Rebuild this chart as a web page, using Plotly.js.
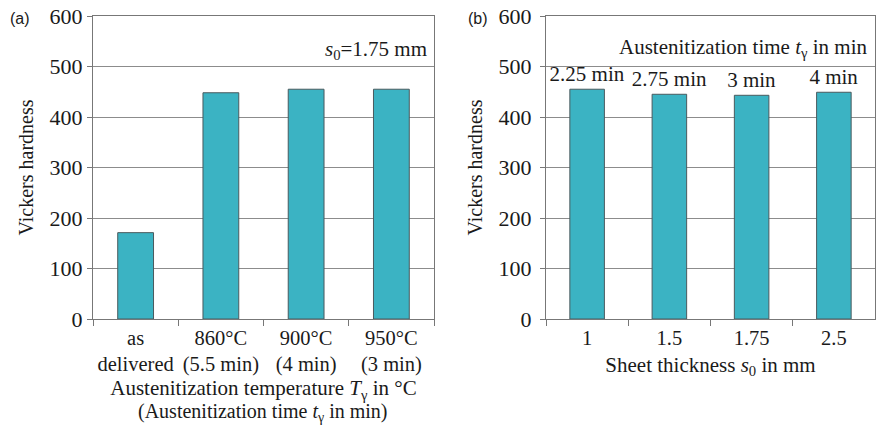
<!DOCTYPE html>
<html><head><meta charset="utf-8">
<script src="https://cdn.plot.ly/plotly-3.0.1.min.js"></script>
<style>html,body{margin:0;padding:0;background:#fff}#chart{width:876px;height:425px}</style>
</head><body><div id="chart"></div>
<script>
// Panel (a)
const catsA = ["as<br>delivered", "860°C<br>(5.5 min)", "900°C<br>(4 min)", "950°C<br>(3 min)"];
const hardnessA = [171, 448, 455, 455];
// Panel (b)
const catsB = ["1", "1.5", "1.75", "2.5"];
const hardnessB = [455, 445, 443, 449];
const timeLabelsB = ["2.25 min", "2.75 min", "3 min", "4 min"];
const yTicks = [0, 100, 200, 300, 400, 500, 600];

const serif = "Liberation Serif";
const ink = "#1a1a1a";
const barColor = "#3bb3c3";
const barLine = {color: "#4a5a5e", width: 1};

const traces = [
  {type: "bar", x: catsA, y: hardnessA, xaxis: "x", yaxis: "y", width: 0.42,
   marker: {color: barColor, line: barLine}, hoverinfo: "skip"},
  {type: "bar", x: catsB, y: hardnessB, xaxis: "x2", yaxis: "y2", width: 0.42,
   marker: {color: barColor, line: barLine}, text: timeLabelsB, textposition: "outside",
   constraintext: "none",
   textfont: {family: serif, size: 21, color: ink}, cliponaxis: false, hoverinfo: "skip"}
];

const xBase = {type: "category", showline: true, linecolor: "#777", linewidth: 1.2, mirror: true,
  ticks: "outside", ticklen: 6, tickcolor: "#777", tickson: "boundaries", showgrid: false, tickangle: 0,
  tickfont: {family: serif, size: 20.5, color: ink}, zeroline: false};
const yBase = {range: [0, 600], tickvals: yTicks, showline: true, linecolor: "#777", linewidth: 1.2, mirror: true,
  ticks: "outside", ticklen: 5, tickcolor: "#777", gridcolor: "#8c8c8c", gridwidth: 1, zeroline: false,
  tickfont: {family: serif, size: 22, color: ink},
  title: {text: "Vickers hardness", font: {family: serif, size: 20, color: ink}, standoff: 10}};

const layout = {
  width: 876, height: 425, margin: {l: 0, r: 0, t: 0, b: 0},
  paper_bgcolor: "#fff", plot_bgcolor: "#fff", showlegend: false,
  xaxis: Object.assign({}, xBase, {domain: [93/876, 434/876], anchor: "y",
    title: {text: "Austenitization temperature <i>T</i><sub>γ</sub> in °C",
      font: {family: serif, size: 21, color: ink}, standoff: 0}}),
  yaxis: Object.assign({}, yBase, {domain: [1 - 319/425, 1 - 16/425], anchor: "x"}),
  xaxis2: Object.assign({}, xBase, {domain: [546/876, 875/876], anchor: "y2",
    title: {text: "Sheet thickness <i>s</i><sub>0</sub> in mm", font: {family: serif, size: 21, color: ink}, standoff: 9}}),
  yaxis2: Object.assign({}, yBase, {domain: [1 - 319/425, 1 - 16/425], anchor: "x2", ticklabelstandoff: 4}),
  annotations: [
    {text: "(Austenitization time <i>t</i><sub>γ</sub> in min)", xref: "paper", yref: "paper", x: 263/876, y: 1 - 412/425,
     xanchor: "center", yanchor: "middle", showarrow: false, font: {family: serif, size: 20, color: ink}},
    {text: "(a)", xref: "paper", yref: "paper", x: 8/876, y: 1 - 18/425, xanchor: "left", yanchor: "middle",
     showarrow: false, font: {family: "Liberation Sans", size: 16, color: ink}},
    {text: "(b)", xref: "paper", yref: "paper", x: 466/876, y: 1 - 18/425, xanchor: "left", yanchor: "middle",
     showarrow: false, font: {family: "Liberation Sans", size: 16, color: ink}},
    {text: "<i>s</i><sub>0</sub>=1.75 mm", xref: "paper", yref: "paper", x: 429/876, y: 1 - 50/425,
     xanchor: "right", yanchor: "middle", showarrow: false, font: {family: serif, size: 21, color: ink}},
    {text: "Austenitization time <i>t</i><sub>γ</sub> in min", xref: "paper", yref: "paper", x: 869/876, y: 1 - 48/425,
     xanchor: "right", yanchor: "middle", showarrow: false, font: {family: serif, size: 21, color: ink}}
  ]
};

Plotly.newPlot("chart", traces, layout, {staticPlot: true, displayModeBar: false});
</script></body></html>
